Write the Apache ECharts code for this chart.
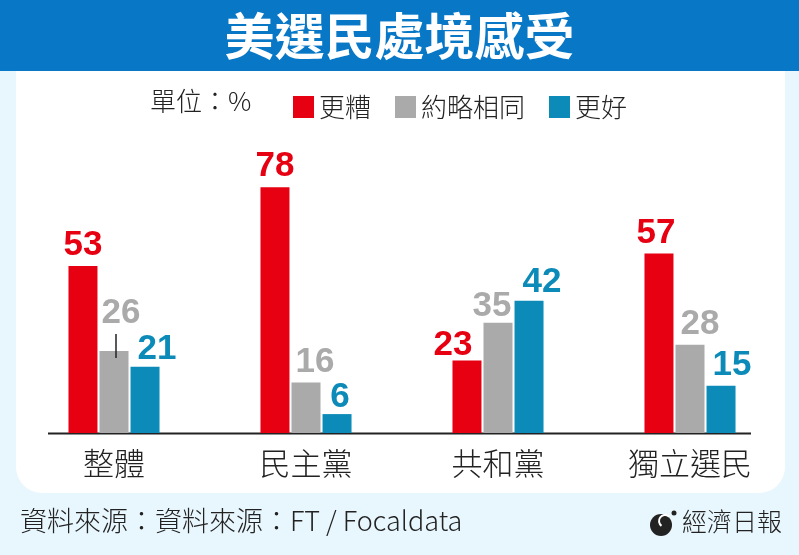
<!DOCTYPE html>
<html>
<head>
<meta charset="utf-8">
<script src="https://cdn.jsdelivr.net/npm/echarts@6/dist/echarts.min.js"></script>
<style>
  html, body { margin: 0; padding: 0; background: #e8f6fd; }
  #chart { width: 799px; height: 555px; }
</style>
</head>
<body>
<div id="chart"></div>
<script>
// ── DATA ───────────────────────────────────────────
const categories = ['整體', '民主黨', '共和黨', '獨立選民'];
const seriesNames = ['更糟', '約略相同', '更好'];
const worse  = [53, 78, 23, 57];
const same   = [26, 16, 35, 28];
const better = [21, 6, 42, 15];

// ── STYLE ──────────────────────────────────────────
const RED = '#e60012', GRAY = '#aaaaaa', BLUE = '#0c8ab8';
const CJK = '"Noto Sans CJK TC", "Noto Sans CJK SC", sans-serif';
const NUM = '"Liberation Sans", Arial, sans-serif';

// per-label nudges [dx, dy] so numbers sit like the printed chart
const nudges = [
  [[0, 0], [0, 0], [-14, 5], [-3, 0]],
  [[7, -17], [9, 0], [-6, 4], [10, 0]],
  [[12, 3], [3, 4], [13, 2], [11, 0]],
];

function barSeries(name, values, color, idx) {
  return {
    name, type: 'bar', data: values.map((v, i) => ({
      value: v,
      label: { offset: nudges[idx][i] },
    })),
    barWidth: 29, barGap: '7%',
    itemStyle: { color },
    label: {
      show: true, position: 'top', distance: 3,
      color, fontFamily: NUM, fontWeight: 'bold', fontSize: 35,
    },
  };
}

const chart = echarts.init(document.getElementById('chart'));

chart.setOption({
  backgroundColor: '#e8f6fd',
  animation: false,
  title: {
    text: '美選民處境感受', left: 'center', top: 6, z: 10,
    textStyle: { color: '#fff', fontSize: 50, fontWeight: 'bold', fontFamily: CJK },
  },
  legend: {
    data: seriesNames, left: 288, top: 89,
    icon: 'rect', itemWidth: 21, itemHeight: 22, itemGap: 24,
    textStyle: { color: '#222', fontSize: 26, fontWeight: 300, fontFamily: CJK },
  },
  grid: { left: 18, right: 13, top: 118, bottom: 122 },
  xAxis: {
    type: 'category', data: categories,
    axisLine: { show: false }, axisTick: { show: false },
    axisLabel: { color: '#222', fontSize: 31, fontWeight: 300, fontFamily: CJK, margin: 15 },
  },
  yAxis: { type: 'value', min: 0, max: 100, show: false },
  series: [
    barSeries(seriesNames[0], worse, RED, 0),
    barSeries(seriesNames[1], same, GRAY, 1),
    barSeries(seriesNames[2], better, BLUE, 2),
  ],
  graphic: [
    { type: 'rect', z: -10, shape: { x: 0, y: 0, width: 799, height: 71 }, style: { fill: '#0878c6' } },
    { type: 'rect', z: -10, shape: { x: 16, y: 71, width: 769, height: 422, r: [0, 0, 26, 26] }, style: { fill: '#fff' } },
    { type: 'text', left: 150, top: 88, style: { text: '單位：%', fontSize: 26, fontWeight: 300, fontFamily: CJK, fill: '#222' } },
    // baseline
    { type: 'line', shape: { x1: 48, y1: 433.5, x2: 751, y2: 433.5 }, style: { stroke: '#222', lineWidth: 2 } },
    // small leader tick above the 26 bar
    { type: 'line', z: 5, shape: { x1: 116, y1: 334, x2: 116, y2: 358 }, style: { stroke: '#222', lineWidth: 1.5 } },
    // footer
    { type: 'text', left: 20, top: 507, style: { text: '資料來源：資料來源：FT / Focaldata', fontSize: 27, fontWeight: 300, fontFamily: CJK, fill: '#222' } },
    { type: 'circle', shape: { cx: 661, cy: 525, r: 11 }, style: { fill: '#222' } },
    { type: 'arc', shape: { cx: 665, cy: 521, r: 6, startAngle: 2.2, endAngle: 5.5 }, style: { stroke: '#fff', lineWidth: 2, fill: null } },
    { type: 'circle', shape: { cx: 674, cy: 513, r: 2.5 }, style: { fill: '#222' } },
    { type: 'text', left: 682, top: 509, style: { text: '經濟日報', fontSize: 25, fontWeight: 300, fontFamily: CJK, fill: '#222' } },
  ],
});
</script>
</body>
</html>
